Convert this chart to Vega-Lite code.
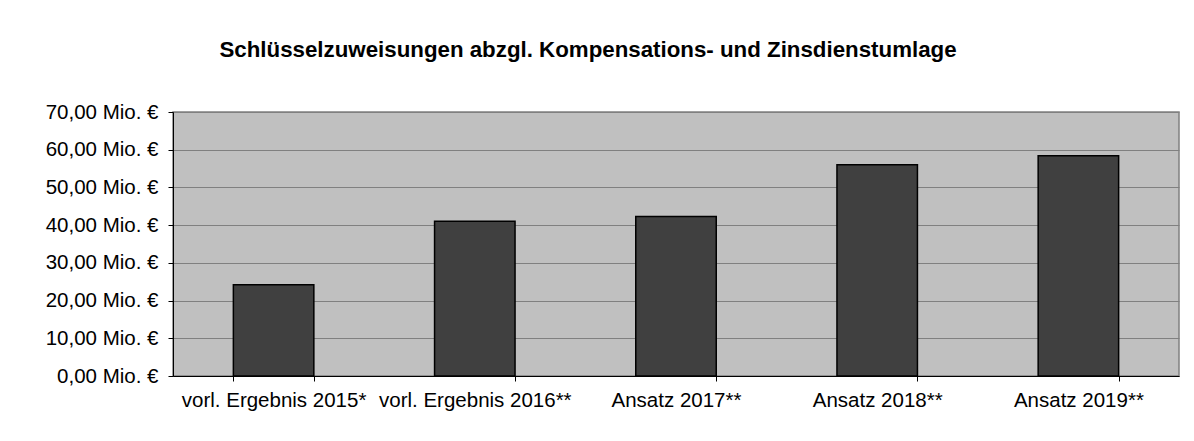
{
  "$schema": "https://vega.github.io/schema/vega-lite/v6.json",
  "autosize": {"type": "none"},
  "padding": {"left": 173, "top": 112, "right": 15, "bottom": 65},
  "width": 1006,
  "height": 264,
  "background": "white",
  "title": {
    "text": "Schlüsselzuweisungen abzgl. Kompensations- und Zinsdienstumlage",
    "font": "Liberation Sans",
    "fontSize": 22.3,
    "fontWeight": "bold",
    "color": "black",
    "anchor": "middle",
    "frame": "group",
    "dx": -88,
    "offset": 41
  },
  "data": {
    "values": [
      {"kategorie": "vorl. Ergebnis 2015*", "wert": 24.2},
      {"kategorie": "vorl. Ergebnis 2016**", "wert": 41.05},
      {"kategorie": "Ansatz 2017**", "wert": 42.3},
      {"kategorie": "Ansatz 2018**", "wert": 56.0},
      {"kategorie": "Ansatz 2019**", "wert": 58.4}
    ]
  },
  "mark": {"type": "bar", "color": "#404040", "stroke": "black", "strokeWidth": 1.5},
  "encoding": {
    "x": {
      "field": "kategorie",
      "type": "nominal",
      "sort": null,
      "scale": {"paddingInner": 0.6, "paddingOuter": 0.3},
      "axis": {
        "title": null,
        "labelAngle": 0,
        "labelLimit": 400,
        "labelOverlap": false,
        "tickBand": "extent",
        "tickSize": 5,
        "tickColor": "black",
        "domainColor": "black",
        "labelFont": "Liberation Sans",
        "labelFontSize": 20.5,
        "labelColor": "black",
        "labelPadding": 9,
        "grid": false
      }
    },
    "y": {
      "field": "wert",
      "type": "quantitative",
      "scale": {"domain": [0, 70], "nice": false},
      "axis": {
        "title": null,
        "values": [0, 10, 20, 30, 40, 50, 60, 70],
        "labelExpr": "replace(format(datum.value, '.2f'), '.', ',') + ' Mio. €'",
        "tickSize": 5,
        "tickColor": "black",
        "domainColor": "black",
        "gridColor": "#808080",
        "gridOpacity": 1,
        "labelFont": "Liberation Sans",
        "labelFontSize": 20.5,
        "labelColor": "black",
        "labelPadding": 10
      }
    }
  },
  "config": {
    "view": {"fill": "#C0C0C0", "stroke": "#808080", "strokeWidth": 1.5}
  }
}
